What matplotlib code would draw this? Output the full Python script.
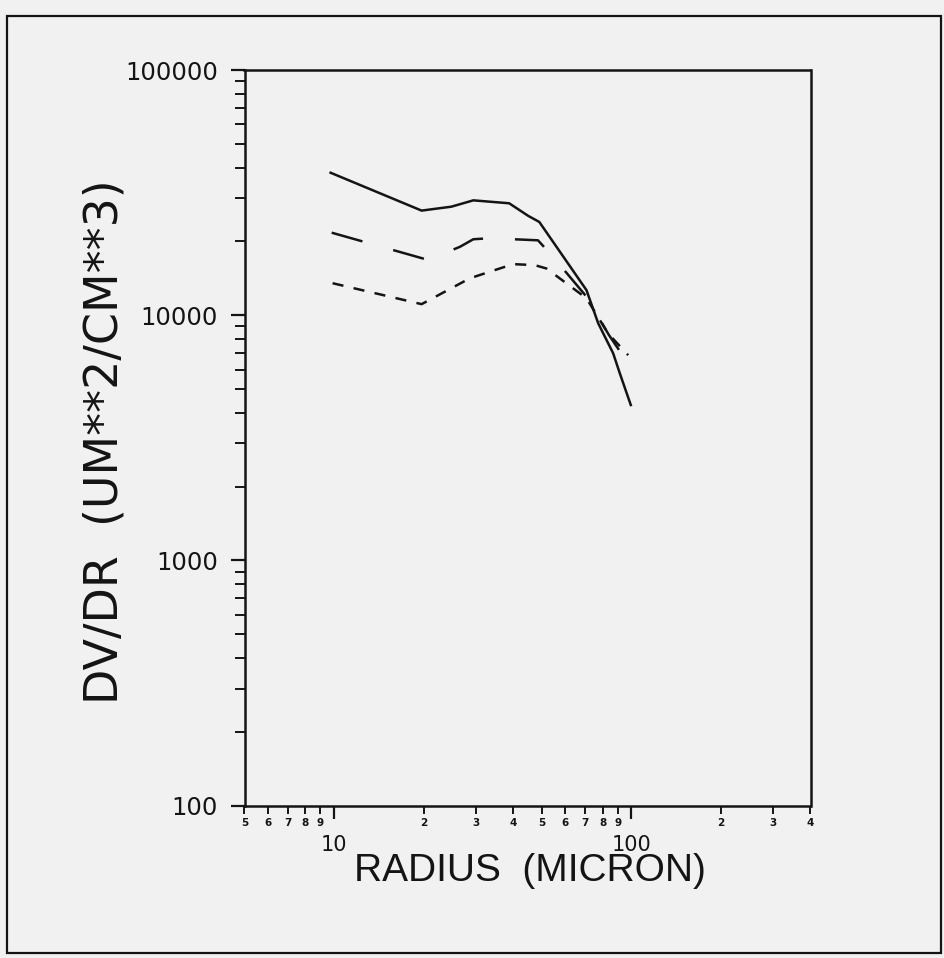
import matplotlib
matplotlib.use("Agg")
import matplotlib.pyplot as plt
from matplotlib.ticker import FixedLocator, FixedFormatter, LogLocator, NullFormatter
from matplotlib.patches import Rectangle

# ---- data -------------------------------------------------------------
radius_solid = [9.74, 19.7, 24.8, 29.4, 38.8, 45.0, 49.0, 70.6, 77.3, 86.8, 91.4, 99.5]
dvdr_solid = [38100, 26700, 27700, 29400, 28600, 25400, 24000, 12650, 9270, 6990, 5790, 4300]

radius_long = [9.82, 20.7, 26.5, 29.4, 33.4, 48.5, 54.5, 70.6, 84.0, 97.5]
dvdr_long = [21700, 16800, 19000, 20400, 20600, 20200, 17300, 11900, 8300, 6350]

radius_short = [9.89, 19.7, 28.6, 30.9, 40.0, 47.3, 51.8, 70.6, 83.4, 97.5]
dvdr_short = [13500, 11090, 14130, 14580, 16150, 16000, 15500, 11720, 8430, 6870]

x_major = [10, 100]
x_major_labels = ["10", "100"]
x_minor = [5, 6, 7, 8, 9, 20, 30, 40, 50, 60, 70, 80, 90, 200, 300, 400]
x_minor_labels = ["5", "6", "7", "8", "9", "2", "3", "4", "5", "6", "7", "8", "9", "2", "3", "4"]
y_major = [100, 1000, 10000, 100000]
y_major_labels = ["100", "1000", "10000", "100000"]

plt.rcParams["lines.scale_dashes"] = False

W, H = 944, 958
bg = "#f1f1f1"
ink = "#141414"
fig = plt.figure(figsize=(W / 100, H / 100), dpi=100, facecolor=bg)

# page frame
fig.patches.append(Rectangle((7 / W, 1 - 953 / H), (941 - 7) / W, (953 - 16) / H,
                             transform=fig.transFigure, fill=False,
                             edgecolor=ink, linewidth=1.6))

left, right, top, bottom = 244.5, 810.5, 70, 805.5
ax = fig.add_axes([left / W, 1 - bottom / H, (right - left) / W, (bottom - top) / H])
ax.set_facecolor(bg)
ax.set_xscale("log")
ax.set_yscale("log")
ax.set_xlim(5, 400)
ax.set_ylim(100, 100000)

ax.plot(radius_solid, dvdr_solid, color=ink, lw=1.8, solid_joinstyle="round")
ax.plot(radius_long, dvdr_long, color=ink, lw=1.8, dashes=(23, 23))
ax.plot(radius_short, dvdr_short, color=ink, lw=1.8, dashes=(8, 7.5))

for s in ax.spines.values():
    s.set_linewidth(1.8)
    s.set_color(ink)

# x axis: decades labelled large and low, intermediate digits small and bold
ax.xaxis.set_major_locator(FixedLocator(x_major))
ax.xaxis.set_major_formatter(FixedFormatter(x_major_labels))
ax.xaxis.set_minor_locator(FixedLocator(x_minor))
ax.xaxis.set_minor_formatter(FixedFormatter(x_minor_labels))
ax.tick_params(axis="x", which="major", direction="out", length=9, width=1.6,
               pad=12, labelsize=15, colors=ink)
ax.tick_params(axis="x", which="minor", direction="out", length=6, width=1.4,
               pad=3, labelsize=7.5, colors=ink)
for t in ax.xaxis.get_minorticklabels():
    t.set_fontweight("bold")

# y axis
ax.yaxis.set_major_locator(FixedLocator(y_major))
ax.yaxis.set_major_formatter(FixedFormatter(y_major_labels))
ax.yaxis.set_minor_locator(LogLocator(base=10, subs=range(2, 10)))
ax.yaxis.set_minor_formatter(NullFormatter())
ax.tick_params(axis="y", which="major", direction="out", length=10, width=1.6,
               pad=9, labelsize=17.5, colors=ink)
ax.tick_params(axis="y", which="minor", direction="out", length=7, width=1.4, colors=ink)

fig.text(530 / W, 1 - 871 / H, "RADIUS  (MICRON)", ha="center", va="center",
         fontsize=28, family="Liberation Sans", color=ink)
fig.text(105 / W, 1 - 442 / H, "DV/DR  (UM**2/CM**3)", ha="center", va="center",
         rotation=90, fontsize=33, family="DejaVu Sans", color=ink)

fig.savefig("out.png", dpi=100, facecolor=bg)
